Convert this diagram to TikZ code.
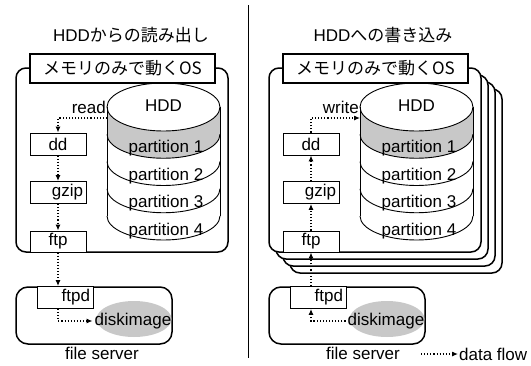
\documentclass[tikz,border=0pt]{standalone}
\usepackage{fontspec}
\setmainfont{Liberation Sans}
\newfontfamily\jpfont{Noto Sans CJK JP}
\usetikzlibrary{arrows.meta, positioning, shapes.geometric}
\definecolor{diskgray}{RGB}{200,200,200}
\newcommand{\diskstack}[2]{%
  \fill[white] (#1-56.5,-107) -- (#1-56.5,-216)
    arc[start angle=180, end angle=360, x radius=56.5pt, y radius=24pt] -- (#1+56.5,-107) -- cycle;
  \fill[diskgray] (#1-56.5,-107)
    arc[start angle=180, end angle=360, x radius=56.5pt, y radius=24pt] -- (#1+56.5,-134.25)
    arc[start angle=360, end angle=180, x radius=56.5pt, y radius=24pt] -- cycle;
  \draw[line width=0.9pt, fill=white] (#1,-107) ellipse[x radius=56.5pt, y radius=24pt];
  \draw[line width=0.9pt] (#1-56.5,-107) -- (#1-56.5,-216) (#1+56.5,-107) -- (#1+56.5,-216);
  \foreach \yy in {-134.25,-161.5,-188.75,-216}
    \draw[line width=0.9pt] (#1-56.5,\yy) arc[start angle=180, end angle=360, x radius=56.5pt, y radius=24pt];
  \node (#2hdd) at (#1,-106) {HDD};
  \node (#2pa) at (#1+2.5,-148) {partition 1};
  \node (#2pb) at (#1+2.5,-176) {partition 2};
  \node (#2pc) at (#1+2.5,-203) {partition 3};
  \node (#2pd) at (#1+2.5,-231) {partition 4};
}

\begin{document}
\begin{tikzpicture}[x=1pt, y=1pt, font=\fontsize{17}{20}\selectfont,
  osbox/.style={draw, line width=1.5pt, rounded corners=10pt, fill=white,
                minimum width=212pt, minimum height=184pt},
  oslabel/.style={draw, line width=1.2pt, fill=white, inner sep=0pt,
                  minimum width=185pt, minimum height=29pt},
  proc/.style={draw, line width=0.9pt, fill=white, inner sep=0pt,
               minimum width=56pt, minimum height=22pt},
  procr/.style={proc, text width=50pt, align=right},
  server/.style={draw, line width=1.5pt, rounded corners=12pt,
                 minimum width=156pt, minimum height=57pt},
  image/.style={ellipse, fill=diskgray, inner sep=0pt,
                minimum width=75pt, minimum height=36pt},
  flow/.style={line width=1.1pt, dotted, -{Latex[length=6pt,width=5pt]}}
]
  \useasboundingbox (0,0) rectangle (531,-365);

  % divider
  \coordinate (dv1) at (248,-5);
  \coordinate (dv2) at (248,-358);
  \draw[line width=1pt] (dv1) -- (dv2);

  % read from the HDD
  \node (t1) at (131,-35) {HDD{\jpfont からの読み出し}};
  \node[osbox] (os1) at (122,-160) {};
  \diskstack{163.5}{l}
  \node[oslabel] (lb1) at (122.5,-68.5) {\jpfont メモリのみで動くOS};
  \node[anchor=east, inner sep=0pt] (rd1) at (106,-107) {read};
  \coordinate (hl1) at (107,-118);
  \node[proc] (dd1) at (58,-144) {dd};
  \node[procr] (gz1) at (58,-192.5) {gzip};
  \node[proc, minimum height=21pt] (ft1) at (58,-241.5) {ftp};
  \node[server] (fs1) at (94,-315.5) {};
  \node[procr] (fd1) at (65,-297.5) {ftpd};
  \node[image] (di1) at (134,-319) {};
  \node[inner sep=2pt] (dt1) at (133,-321) {diskimage};
  \node (fl1) at (102,-353) {file server};

  \draw[flow] (hl1) -| (dd1.north);
  \draw[flow] (dd1) -- (gz1);
  \draw[flow] (gz1) -- (ft1);
  \draw[flow] (ft1.south) -- (ft1.south |- fd1.north);
  \draw[flow] (ft1.south |- fd1.south) |- (dt1.west);

  % write to the HDD
  \node (t2) at (383,-35) {HDD{\jpfont への書き込み}};
  \node[osbox] (os2c) at (396,-181) {};
  \node[osbox] (os2b) at (389,-174) {};
  \node[osbox] (os2a) at (382,-167) {};
  \node[osbox] (os2) at (375,-160) {};
  \diskstack{416.5}{r}
  \node[oslabel] (lb2) at (375.5,-68.5) {\jpfont メモリのみで動くOS};
  \node[anchor=east, inner sep=0pt] (wr2) at (359,-107) {write};
  \coordinate (hl2) at (360,-118);
  \node[proc] (dd2) at (311,-144) {dd};
  \node[procr] (gz2) at (311,-192.5) {gzip};
  \node[proc, minimum height=21pt] (ft2) at (311,-241.5) {ftp};
  \node[server] (fs2) at (347,-315.5) {};
  \node[procr] (fd2) at (318,-297.5) {ftpd};
  \node[image] (di2) at (387,-319) {};
  \node[inner sep=2pt] (dt2) at (386,-321) {diskimage};
  \node (fl2) at (363,-353) {file server};

  \draw[flow] (dd2.north) |- (hl2);
  \draw[flow] (gz2) -- (dd2);
  \draw[flow] (ft2) -- (gz2);
  \draw[flow] (ft2.south |- fd2.north) -- (ft2.south);
  \draw[flow] (dt2.west) -| (ft2.south |- fd2.south);

  % legend
  \coordinate (lg1) at (421,-354);
  \node[anchor=west, inner sep=1pt] (lg2) at (458,-354) {data flow};
  \draw[flow] (lg1) -- (lg2.west);
\end{tikzpicture}
\end{document}
